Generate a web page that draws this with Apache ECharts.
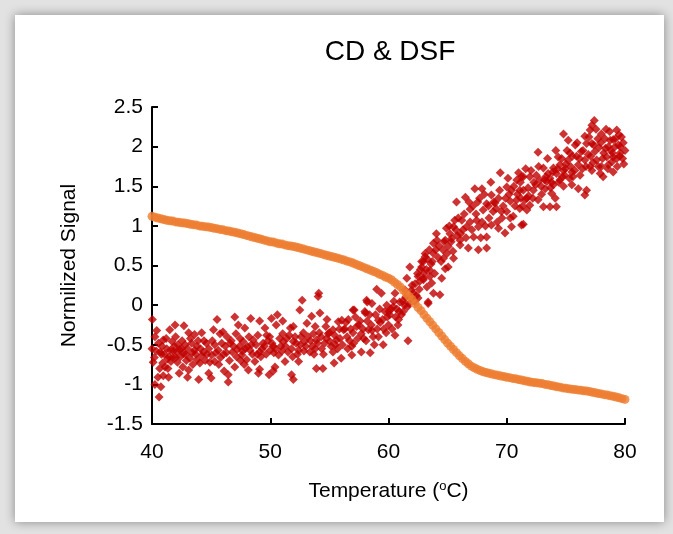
<!DOCTYPE html>
<html>
<head>
<meta charset="utf-8">
<script src="https://cdn.jsdelivr.net/npm/echarts@6/dist/echarts.min.js"></script>
<style>
html,body{margin:0;padding:0;background:#fff;}
#chart{width:673px;height:534px;}
</style>
</head>
<body>
<div id="chart"></div>
<script>
// ---- data ----
var titleText = 'CD & DSF';
var xTicks = [40, 50, 60, 70, 80];
var yTicks = [-1.5, -1, -0.5, 0, 0.5, 1, 1.5, 2, 2.5];

// CD (orange): temperature, normalized signal
var cdPoints = [
[40.00,1.12],[40.25,1.11],[40.50,1.10],[40.75,1.09],[41.00,1.08],[41.25,1.07],[41.50,1.065],[41.75,1.06],
[42.00,1.05],[42.25,1.045],[42.50,1.04],[42.75,1.035],[43.00,1.03],[43.25,1.02],[43.50,1.015],[43.75,1.01],
[44.00,1.00],[44.25,0.995],[44.50,0.99],[44.75,0.985],[45.00,0.98],[45.25,0.97],[45.50,0.965],[45.75,0.955],
[46.00,0.95],[46.25,0.94],[46.50,0.935],[46.75,0.925],[47.00,0.92],[47.25,0.91],[47.50,0.90],[47.75,0.89],
[48.00,0.88],[48.25,0.87],[48.50,0.86],[48.75,0.85],[49.00,0.84],[49.25,0.83],[49.50,0.82],[49.75,0.81],
[50.00,0.80],[50.25,0.795],[50.50,0.785],[50.75,0.775],[51.00,0.77],[51.25,0.76],[51.50,0.75],[51.75,0.745],
[52.00,0.74],[52.25,0.73],[52.50,0.72],[52.75,0.71],[53.00,0.70],[53.25,0.69],[53.50,0.68],[53.75,0.67],
[54.00,0.66],[54.25,0.65],[54.50,0.64],[54.75,0.63],[55.00,0.62],[55.25,0.61],[55.50,0.60],[55.75,0.59],
[56.00,0.58],[56.25,0.57],[56.50,0.555],[56.75,0.545],[57.00,0.53],[57.25,0.515],[57.50,0.50],[57.75,0.485],
[58.00,0.47],[58.25,0.455],[58.50,0.44],[58.75,0.425],[59.00,0.41],[59.25,0.39],[59.50,0.375],[59.75,0.355],
[60.00,0.34],[60.25,0.32],[60.50,0.29],[60.75,0.26],[61.00,0.23],[61.25,0.19],[61.50,0.15],[61.75,0.11],
[62.00,0.07],[62.25,0.02],[62.50,-0.03],[62.75,-0.07],[63.00,-0.12],[63.25,-0.165],[63.50,-0.21],[63.75,-0.255],
[64.00,-0.30],[64.25,-0.345],[64.50,-0.39],[64.75,-0.435],[65.00,-0.48],[65.25,-0.52],[65.50,-0.56],[65.75,-0.60],
[66.00,-0.64],[66.25,-0.675],[66.50,-0.71],[66.75,-0.74],[67.00,-0.77],[67.25,-0.79],[67.50,-0.81],[67.75,-0.825],
[68.00,-0.84],[68.25,-0.85],[68.50,-0.86],[68.75,-0.87],[69.00,-0.88],[69.25,-0.885],[69.50,-0.895],[69.75,-0.90],
[70.00,-0.91],[70.25,-0.915],[70.50,-0.925],[70.75,-0.93],[71.00,-0.94],[71.25,-0.945],[71.50,-0.955],[71.75,-0.96],
[72.00,-0.97],[72.25,-0.975],[72.50,-0.98],[72.75,-0.985],[73.00,-0.99],[73.25,-1.00],[73.50,-1.005],[73.75,-1.015],
[74.00,-1.02],[74.25,-1.03],[74.50,-1.035],[74.75,-1.045],[75.00,-1.05],[75.25,-1.055],[75.50,-1.06],[75.75,-1.065],
[76.00,-1.07],[76.25,-1.075],[76.50,-1.08],[76.75,-1.085],[77.00,-1.09],[77.25,-1.10],[77.50,-1.105],[77.75,-1.115],
[78.00,-1.12],[78.25,-1.13],[78.50,-1.135],[78.75,-1.145],[79.00,-1.15],[79.25,-1.16],[79.50,-1.17],[79.75,-1.18],
[80.00,-1.19]
];

// DSF (red): temperature, normalized signal
var dsfPoints = [
[40.03,-0.18],[40.4,-0.32],[40.25,-0.40],[40.0,-0.55],[40.2,-0.66],[40.7,-0.59],[40.95,-0.44],[40.9,-0.73],[41.1,-0.78],
[40.5,-0.91],[40.25,-1.0],[40.75,-1.03],[40.6,-1.16],[40.95,-0.89],[41.4,-0.91],[41.25,-0.55],[41.5,-0.31],[41.95,-0.25],
[41.7,-0.46],[41.9,-0.52],[42.1,-0.59],[41.45,-0.65],[41.6,-0.71],[42.2,-0.50],[42.4,-0.65],[42.3,-0.86],[42.7,-0.26],
[42.8,-0.50],[42.65,-0.61],[43.1,-0.35],[43.35,-0.48],[43.2,-0.67],[43.1,-0.82],[43.0,-0.91],[43.6,-0.37],[43.6,-0.57],
[43.8,-0.69],[44.05,-0.73],[43.95,-0.94],[44.2,-0.35],[44.35,-0.59],[44.6,-0.48],[44.8,-0.86],[45.0,-0.92],[45.2,-0.31],
[45.05,-0.63],[45.3,-0.71],[45.5,-0.18],[45.6,-0.57],[45.75,-0.36],[46.0,-0.34],[46.2,-0.52],[46.1,-0.83],[46.45,-0.88],
[46.45,-0.97],[46.6,-0.48],[46.8,-0.59],[47.0,-0.15],[47.1,-0.36],[47.0,-0.78],[47.3,-0.25],[47.4,-0.52],[47.6,-0.63],
[40.8,-0.62],[41.3,-0.68],[41.8,-0.58],[42.0,-0.66],[42.5,-0.55],[42.9,-0.70],[43.4,-0.60],[43.8,-0.52],[44.2,-0.64],
[44.5,-0.70],[44.8,-0.55],[45.3,-0.50],[45.8,-0.66],[46.3,-0.60],[46.7,-0.45],[47.2,-0.56],[47.5,-0.70],[47.9,-0.55],
[48.4,-0.50],[48.9,-0.62],[49.3,-0.55],[49.8,-0.45],[50.3,-0.60],[50.9,-0.52],[51.4,-0.42],[51.8,-0.55],[52.2,-0.48],
[52.6,-0.40],[53.0,-0.52],[53.4,-0.45],[53.8,-0.55],[54.3,-0.40],[54.6,-0.48],[55.0,-0.35],[55.5,-0.50],[55.9,-0.42],
[56.3,-0.30],[56.7,-0.45],[57.0,-0.35],[57.5,-0.25],[57.9,-0.42],[58.2,-0.20],[58.6,-0.32],[58.9,-0.12],[59.3,-0.22],
[59.6,-0.30],[59.9,-0.15],[60.2,-0.05],[60.6,-0.15],[60.9,-0.08],[61.2,0.05],[61.6,-0.02],[61.9,0.10],[62.2,0.05],[62.6,0.20],
[54.1,0.15],[54.05,0.11],[52.7,0.06],[52.5,-0.06],[54.2,-0.10],[53.5,-0.14],[48.35,-0.17],[49.1,-0.20],[50.1,-0.17],
[50.6,-0.12],[51.05,-0.20],[50.5,-0.25],[49.55,-0.29],[47.85,-0.29],[51.7,-0.29],[51.95,-0.27],[53.1,-0.23],[53.8,-0.27],
[54.8,-0.18],[54.7,-0.27],[55.3,-0.31],[55.75,-0.21],[49.7,-0.38],[51.05,-0.36],[52.8,-0.35],[53.65,-0.36],[54.9,-0.36],
[47.7,-0.46],[48.55,-0.44],[49.4,-0.48],[50.25,-0.52],[51.1,-0.46],[51.95,-0.46],[52.9,-0.46],[53.9,-0.44],[55.05,-0.46],
[55.6,-0.44],[48.3,-0.57],[49.1,-0.59],[50.0,-0.57],[50.7,-0.63],[51.5,-0.59],[52.4,-0.57],[53.35,-0.59],[54.35,-0.55],
[55.3,-0.59],[48.0,-0.69],[48.7,-0.71],[50.4,-0.78],[51.25,-0.71],[52.4,-0.71],[48.15,-0.82],[49.1,-0.81],[49.0,-0.86],
[49.9,-0.88],[50.25,-0.83],[51.8,-0.88],[51.95,-0.94],[53.9,-0.80],[54.45,-0.80],[55.4,-0.73],
[56.0,-0.67],[56.05,-0.19],[56.6,-0.18],[57.1,-0.06],[56.2,-0.31],[56.5,-0.40],[56.9,-0.52],[56.9,-0.63],[57.3,-0.27],
[57.7,-0.36],[57.7,-0.59],[58.15,0.06],[58.05,-0.10],[58.3,-0.31],[58.45,-0.60],[58.6,0.02],[58.8,-0.50],[59.0,0.20],
[59.4,0.15],[59.15,-0.19],[59.15,-0.40],[59.55,-0.50],[59.7,-0.08],[59.85,0.0],[60.0,-0.25],[60.1,-0.12],[60.4,-0.02],
[60.55,-0.38],[60.8,-0.25],[60.55,0.15],[60.95,0.04],[61.25,-0.08],[61.65,-0.45],[61.4,0.19],[61.8,0.48],[61.55,0.34],
[61.95,0.19],[62.25,0.27],[62.5,0.09],[62.5,0.36],[62.95,0.32],[62.95,0.55],[63.1,0.65],[63.35,0.04],[63.5,0.44],
[63.65,0.28],[63.8,0.78],[63.3,0.58],[57.0,-0.06],[58.2,0.04],[58.0,-0.08],
[62.1,0.15],[62.7,0.45],[63.0,0.40],[63.6,0.52],[64.2,0.60],[64.6,0.70],[65.2,0.90],[65.8,0.88],[66.3,0.95],[66.9,1.05],
[67.4,1.15],[67.9,1.05],[68.5,1.10],[69.1,1.22],[69.7,1.25],[70.2,1.40],[70.7,1.25],[71.2,1.35],[71.8,1.48],[72.3,1.55],
[72.9,1.50],[73.3,1.62],[73.8,1.55],[74.3,1.72],[74.7,1.62],[75.0,1.78],[75.4,1.75],[75.9,1.88],[76.4,1.72],[76.9,1.90],
[77.3,1.80],[77.7,2.10],[78.2,1.92],[78.8,1.95],[79.2,2.10],[79.6,2.0],[79.8,1.85],[79.5,2.15],[78.4,2.22],[80.0,1.95],
[69.45,1.67],[71.0,1.67],[70.85,1.58],[71.4,1.62],[67.3,1.47],[67.9,1.47],[70.0,1.49],[70.4,1.45],[71.1,1.45],[65.75,1.30],
[66.5,1.36],[67.7,1.35],[68.7,1.39],[69.3,1.35],[68.3,1.28],[69.0,1.29],[70.3,1.31],[70.85,1.33],[71.55,1.33],[66.9,1.21],
[68.0,1.20],[68.85,1.18],[70.0,1.18],[71.1,1.22],[71.7,1.20],[65.6,1.07],[66.2,1.07],[67.45,1.07],[69.6,1.10],[70.55,1.12],
[64.9,0.97],[65.5,0.99],[66.6,0.99],[67.6,0.99],[68.7,1.01],[69.3,0.97],[70.4,0.99],[71.4,1.02],[64.1,0.82],[64.8,0.82],
[65.35,0.84],[66.05,0.82],[67.2,0.86],[68.3,0.86],[69.85,0.91],[64.0,0.70],[65.05,0.74],[66.05,0.76],[66.75,0.72],[67.6,0.70],
[68.3,0.72],[63.1,0.61],[63.8,0.65],[64.65,0.59],[65.5,0.59],[64.8,0.46],[65.05,0.48],[64.5,0.34],[62.95,0.34],[63.5,0.36],
[63.25,0.23],[63.8,0.15],[64.35,0.13],[63.35,0.02],[62.8,0.48],[62.8,0.55],
[77.4,2.33],[77.2,2.27],[77.05,2.21],[74.8,2.16],[78.0,2.16],[78.7,2.19],[79.3,2.21],[76.6,2.13],[76.75,2.04],[78.3,2.10],
[79.0,2.09],[75.2,2.08],[75.8,2.02],[77.2,2.04],[77.8,1.99],[78.6,2.0],[79.45,2.02],[72.65,1.93],[75.35,1.92],[76.3,1.94],
[77.45,1.94],[78.45,1.87],[79.0,1.87],[79.6,1.92],[74.35,1.87],[75.2,1.83],[76.6,1.83],[77.6,1.83],[78.9,1.81],[79.3,1.85],
[74.5,1.77],[76.05,1.77],[77.05,1.75],[78.0,1.75],[78.6,1.77],[73.95,1.73],[74.8,1.70],[75.5,1.68],[77.2,1.70],[77.9,1.66],
[79.0,1.68],[73.1,1.73],[73.5,1.66],[74.2,1.66],[74.9,1.64],[76.2,1.64],[78.15,1.62],[71.25,1.62],[71.95,1.62],[72.5,1.64],
[72.8,1.58],[73.65,1.60],[74.5,1.58],[75.6,1.62],[73.4,1.56],[71.4,1.45],[72.25,1.45],[73.25,1.47],[73.95,1.52],[74.8,1.50],
[75.5,1.52],[76.05,1.47],[76.75,1.45],[76.6,1.39],[71.7,1.35],[72.65,1.33],[73.8,1.41],[74.1,1.35],[73.1,1.24],[73.65,1.24],
[74.2,1.24],[71.95,1.26],[71.25,1.01],
[40.1,-0.72],[40.35,-0.58],[40.55,-0.48],[40.65,-0.80],[40.85,-0.52],[41.05,-0.62],[41.2,-0.42],[41.35,-0.80],[41.55,-0.57],
[41.75,-0.66],[42.0,-0.40],[42.15,-0.72],[42.35,-0.56],[42.55,-0.45],[42.6,-0.78],[42.85,-0.62],[43.0,-0.55],[43.25,-0.42],
[43.45,-0.75],[43.7,-0.62],[43.9,-0.45],[44.1,-0.55],[44.4,-0.45],[44.65,-0.62],[44.9,-0.72],[45.1,-0.45],[45.4,-0.60],
[45.65,-0.75],[45.9,-0.48],[46.05,-0.62],[46.35,-0.40],[46.55,-0.70],[46.9,-0.52],[47.15,-0.65],[47.45,-0.42],[47.65,-0.58],
[47.8,-0.75],[48.05,-0.52],[48.2,-0.40],[48.5,-0.62],[48.8,-0.50],[48.95,-0.38],[49.2,-0.65],[49.5,-0.52],[49.65,-0.62],
[49.95,-0.40],[50.15,-0.48],[50.45,-0.55],[50.8,-0.42],[51.0,-0.58],[51.3,-0.52],[51.6,-0.38],[51.9,-0.65],[52.1,-0.40],
[52.3,-0.62],[52.55,-0.50],[52.85,-0.58],[53.2,-0.40],[53.55,-0.52],[53.7,-0.62],[54.0,-0.48],[54.15,-0.35],[54.5,-0.62],
[54.75,-0.42],[55.15,-0.52],[55.45,-0.38],[55.7,-0.55],[55.85,-0.30],[56.1,-0.50],[56.4,-0.22],[56.55,-0.55],[56.8,-0.30],
[57.05,-0.48],[57.2,-0.15],[57.4,-0.42],[57.6,-0.20],[57.85,-0.30],[58.1,-0.45],[58.4,-0.12],[58.55,-0.25],[58.7,-0.40],
[59.05,-0.30],[59.25,-0.05],[59.5,-0.18],[59.8,-0.35],[60.05,-0.08],[60.3,-0.30],[60.45,0.05],[60.7,-0.05],[60.85,-0.18],
[61.1,-0.12],[61.35,0.0],[61.45,0.10],[61.75,0.02],[62.0,0.25],[62.35,0.12],[62.45,0.40],[62.65,0.30],
[63.2,0.45],[63.45,0.70],[63.7,0.55],[63.9,0.40],[64.05,0.90],[64.25,0.75],[64.45,0.55],[64.7,0.80],[64.95,0.65],
[65.15,1.00],[65.3,0.80],[65.45,0.68],[65.7,0.95],[65.9,1.10],[66.1,0.90],[66.4,1.15],[66.55,0.85],[66.8,1.30],
[67.05,0.95],[67.15,1.25],[67.55,1.30],[67.8,0.85],[68.1,1.40],[68.2,1.00],[68.45,1.25],[68.65,1.55],[68.9,1.30],
[69.2,1.05],[69.4,1.45],[69.55,1.18],[69.9,1.35],[70.1,1.60],[70.3,1.10],[70.6,1.50],[70.9,1.40],[71.15,1.55],
[71.35,1.25],[71.6,1.72],[71.85,1.38],[72.05,1.70],[72.2,1.35],[72.45,1.52],[72.7,1.75],[72.95,1.40],[73.2,1.58],
[73.45,1.85],[73.7,1.48],[73.9,1.68],[74.15,1.95],[74.4,1.55],[74.65,1.85],[74.95,1.72],[75.1,1.95],[75.3,1.60],
[75.55,1.88],[75.75,1.70],[75.95,2.05],[76.15,1.85],[76.45,1.95],[76.7,1.75],[76.95,2.12],[77.1,1.88],[77.35,2.02],
[77.55,2.22],[77.75,1.75],[77.95,2.05],[78.1,1.85],[78.35,1.98],[78.55,1.72],[78.75,2.08],[78.95,1.92],[79.15,2.0],
[79.35,1.75],[79.55,1.88],[79.7,2.12],[79.85,2.05],[79.9,1.78]
];

// ---- chart ----
var chart = echarts.init(document.getElementById('chart'), null, {renderer: 'canvas'});
var FONT = '"Liberation Sans", Arial, sans-serif';
chart.setOption({
  animation: false,
  backgroundColor: '#e2e2e2',
  graphic: [{
    type: 'rect', z: -10, silent: true,
    shape: {x: 15, y: 15, width: 649, height: 507},
    style: {fill: '#ffffff', shadowBlur: 10, shadowColor: 'rgba(0,0,0,0.4)', shadowOffsetX: 0, shadowOffsetY: 0}
  }],
  title: {
    text: titleText, left: 385, top: 33, textAlign: 'center',
    textStyle: {fontFamily: FONT, fontSize: 28, fontWeight: 'normal', color: '#000'}
  },
  grid: {left: 152, right: 48, top: 107, bottom: 110, containLabel: false},
  xAxis: {
    type: 'value', min: xTicks[0], max: xTicks[xTicks.length - 1], interval: 10,
    name: 'Temperature ({sup|o}C)', nameLocation: 'middle', nameGap: 56,
    nameTextStyle: {fontFamily: FONT, fontSize: 21, color: '#000',
      rich: {sup: {fontFamily: FONT, fontSize: 13, color: '#000', verticalAlign: 'top', padding: [0, 0, 9, 0]}}},
    axisLine: {show: true, onZero: false, lineStyle: {color: '#000', width: 2}},
    axisTick: {show: true, inside: true, length: 6, lineStyle: {color: '#000', width: 2}},
    axisLabel: {fontFamily: FONT, fontSize: 21, color: '#000', margin: 18},
    splitLine: {show: false}
  },
  yAxis: {
    type: 'value', min: yTicks[0], max: yTicks[yTicks.length - 1], interval: 0.5,
    name: 'Normilized Signal', nameLocation: 'middle', nameGap: 72, nameRotate: 90,
    nameTextStyle: {fontFamily: FONT, fontSize: 21, color: '#000'},
    axisLine: {show: true, onZero: false, lineStyle: {color: '#000', width: 2}},
    axisTick: {show: true, inside: true, length: 6, lineStyle: {color: '#000', width: 2}},
    axisLabel: {fontFamily: FONT, fontSize: 21, color: '#000', margin: 9},
    splitLine: {show: false}
  },
  series: [
    {
      name: 'CD', type: 'scatter', data: cdPoints, symbol: 'circle', symbolSize: 9,
      itemStyle: {color: '#ed7d31'}, z: 3
    },
    {
      name: 'DSF', type: 'scatter', data: dsfPoints, symbol: 'diamond', symbolSize: 9,
      itemStyle: {color: '#c00000'}, z: 2
    }
  ]
});
</script>
</body>
</html>
